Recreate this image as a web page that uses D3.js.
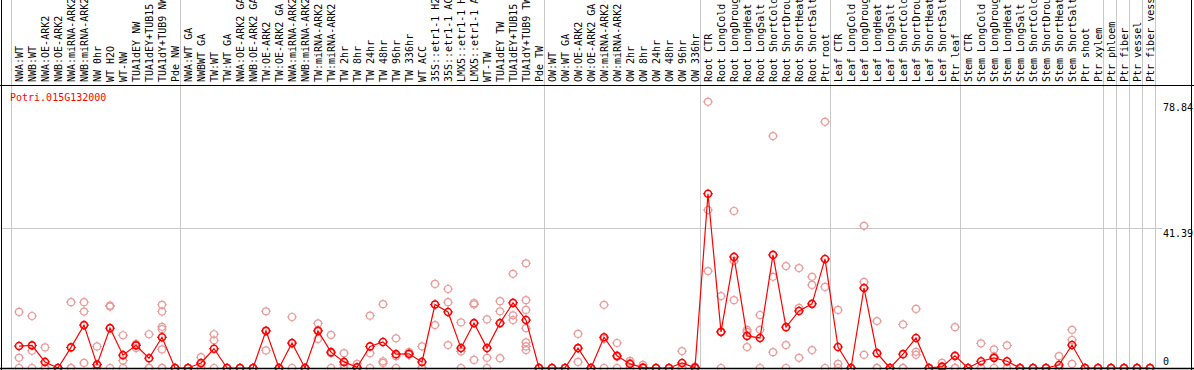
<!DOCTYPE html>
<meta charset="utf-8">
<head>
  <style>
    body {
      margin: 0;
      background: #fff;
    }
    text {
      font-family: "DejaVu Sans Mono", "Liberation Mono", monospace;
      font-size: 10px;
    }
  </style>
</head>
<body>
  <div class="chart"></div>
  <script src="https://d3js.org/d3.v7.min.js"></script>
  <script>
    // sample names (cut at 14 chars like the original)
    var labels = [
      "NWA:WT","NWB:WT","NWA:OE-ARK2","NWB:OE-ARK2","NWA:miRNA-ARK2","NWB:miRNA-ARK2","NW 0hr","WT H2O","WT-NW","TUA1dEY NW","TUA1dEY+TUB15","TUA1dY+TUB9 NW","Pde NW",
      "NWA:WT GA","NWBWT GA","TW:WT","TW:WT GA","NWA:OE-ARK2 GA","NWB:OE-ARK2 GA","TW:OE-ARK2","TW:OE-ARK2 GA","NWA:miRNA-ARK2","NWB:miRNA-ARK2","TW:miRNA-ARK2","TW:miRNA-ARK2",
      "TW 2hr","TW 8hr","TW 24hr","TW 48hr","TW 96hr","TW 336hr","WT ACC","35S::etr1-1 H2","35S::etr1-1 AC","LMX5::etr1-1 H","LMX5::etr1-1 A","WT-TW","TUA1dEY TW","TUA1dEY+TUB15","TUA1dY+TUB9 TW","Pde TW",
      "OW:WT","OW:WT GA","OW:OE-ARK2","OW:OE-ARK2 GA","OW:miRNA-ARK2","OW:miRNA-ARK2","OW 2hr","OW 8hr","OW 24hr","OW 48hr","OW 96hr","OW 336hr",
      "Root CTR","Root LongCold","Root LongDroug","Root LongHeat","Root LongSalt","Root ShortCold","Root ShortDrou","Root ShortHeat","Root ShortSalt","Ptr root",
      "Leaf CTR","Leaf LongCold","Leaf LongDroug","Leaf LongHeat","Leaf LongSalt","Leaf ShortCold","Leaf ShortDrou","Leaf ShortHeat","Leaf ShortSalt","Ptr leaf",
      "Stem CTR","Stem LongCold","Stem LongDroug","Stem LongHeat","Stem LongSalt","Stem ShortCold","Stem ShortDrou","Stem ShortHeat","Stem ShortSalt","Ptr shoot","Ptr xylem",
      "Ptr phloem","Ptr fiber","Ptr vessel","Ptr fiber vess"
    ];

    // group separators (index of first sample in each block)
    var groupBreaks = [0, 13, 41, 53, 63, 73, 84, 85, 86, 87, 88];

    // mean expression per sample
    var means = [
      6.5, 6.7, 1.8, 0, 6.1, 12.7, 1.0, 11.8, 3.8, 6.7, 2.9, 9.1, 0,
      0, 1.5, 5.7, 0, 0, 0, 11.0, 0, 7.4, 0, 11.0, 4.7,
      1.8, 0.2, 6.4, 7.7, 4.1, 4.2, 1.8, 18.8, 16.6, 5.9, 13.3, 5.9, 13.3, 19.3, 14.2, 0,
      0, 0, 5.9, 0, 9.1, 3.6, 1.2, 0.1, 0, 0, 1.5, 0.1,
      51.6, 10.7, 32.9, 9.5, 8.9, 33.5, 12.1, 16.9, 19.0, 32.3,
      6.2, 0, 23.7, 4.4, 0, 4.1, 8.9, 0, 0.4, 3.6,
      0, 2.0, 3.0, 2.0, 0, 0, 0, 0.9, 6.8, 0, 0,
      0, 0, 0, 0
    ];

    // replicate values per sample
    var reps = [
      [16.6, 3.0, 0], [15.4, 5.1, 0], [6.1, 0, 0], [0, 0, 0], [19.5, 0, 0], [19.5, 16.7, 1.5], [6.4, 0, 0],
      [18.5, 18.2, 0], [9.7, 2.2, 0], [7.1, 5.9, 7.0], [10.0, 0, 0], [18.7, 16.7, 12.2, 11.5, 5.5, 0, 0], [0, 0, 0],
      [0, 0, 0], [3.2, 1.2, 0], [10.0, 8.2, 0], [0, 0, 0], [0, 0, 0], [0, 0, 0], [16.8, 5.2, 11.0], [0, 0, 0],
      [15.1, 7.2, 0], [0, 0, 0], [13.2, 8.6, 11.2], [9.8, 4.4, 0],
      [4.4, 0.9, 0], [1.2, 0, 0], [15.5, 4.4, 0], [18.9, 2.0, 1.5], [8.8, 3.5, 0], [4.7, 3.9, 4.0], [6.4, 0, 0],
      [24.9, 12.7, 18.8], [23.4, 19.5, 6.8], [13.5, 4.9, 0], [18.8, 19.2, 2.4], [14.4, 3.0, 0], [19.8, 16.8, 2.9],
      [27.9, 15.6, 14.2], [31.0, 20.1, 17.2, 11.8, 7.6, 6.4, 5.3], [0, 0, 0],
      [0, 0, 0], [0, 0, 0], [10.1, 1.8, 5.9], [0, 0, 0], [18.7, 8.6, 0], [7.4, 3.3, 0], [2.1, 1.5, 0], [0.9, 0, 0],
      [0, 0, 0], [0, 0, 0], [5.0, 0, 0], [0.4, 0, 0],
      [78.84, 46.8, 28.7], [21.3, 10.7, 0], [46.5, 31.7, 20.1], [11.3, 10.7, 6.2], [15.7, 11.3, 0],
      [68.7, 27.0, 4.7], [30.2, 6.8, 0], [29.6, 17.8, 3.0], [27.0, 24.6, 5.3], [72.9, 24.0, 0],
      [17.2, 1.2, 0], [0, 0, 0], [42.1, 25.5, 3.9], [13.9, 0, 0], [0, 0, 0], [12.9, 0, 0], [17.5, 4.8, 3.9],
      [0, 0, 0], [1.5, 0, 0], [12.1, 0, 0],
      [0, 0, 0], [7.3, 0, 0], [5.5, 3.4, 0], [6.7, 0, 0], [0, 0, 0], [0, 0, 0], [0, 0, 0], [3.5, 0, 0],
      [11.3, 8.3, 1.2], [0, 0, 0], [0, 0, 0],
      [0, 0, 0], [0, 0, 0], [0, 0, 0], [0, 0, 0]
    ];

    var geneName = "Potri.015G132000";
    var maxValue = 78.84;
    var yTickValues = [0, 41.39, 78.84];

    var width = 1194, height = 370;
    var step = 13, left = 11, headerBottom = 85.5, bottom = 368.5, right = 1191.5;

    var svg = d3.select(".chart").append("svg")
        .attr("width", width)
        .attr("height", height);

    var x = d3.scaleBand()
        .domain(d3.range(labels.length))
        .range([left, left + step * labels.length]);

    var y = d3.scaleLinear()
        .domain([0, maxValue * 1.05])
        .range([368, 88.5]);

    function cx(i) { return x(i) + 8; }

    var grey = "#c8c8c8";

    // group separators
    svg.append("g").selectAll("line")
        .data(groupBreaks)
        .enter().append("line")
        .attr("x1", function(d) { return x.range()[0] + d * x.step() + 0.5; })
        .attr("x2", function(d) { return x.range()[0] + d * x.step() + 0.5; })
        .attr("y1", 0)
        .attr("y2", bottom)
        .attr("stroke", grey);

    // mid gridline
    svg.append("line")
        .attr("x1", 1)
        .attr("x2", 1162)
        .attr("y1", Math.round(y(yTickValues[1])) + 0.5)
        .attr("y2", Math.round(y(yTickValues[1])) + 0.5)
        .attr("stroke", grey);

    // marker: ring with small ticks
    function marker(g, color, sw) {
      g.append("circle")
          .attr("r", 3.5)
          .attr("fill", "none")
          .attr("stroke", color)
          .attr("stroke-width", sw);
      g.append("path")
          .attr("d", "M0,-5V-3.5M0,3.5V5M-5,0H-3.5M3.5,0H5")
          .attr("stroke", color)
          .attr("stroke-width", 1);
    }

    // replicates
    var repData = [];
    reps.forEach(function(r, i) {
      r.forEach(function(v) { repData.push({ i: i, v: v }); });
    });

    svg.append("g").selectAll("g")
        .data(repData)
        .enter().append("g")
        .attr("transform", function(d) { return "translate(" + cx(d.i) + "," + y(d.v) + ")"; })
        .each(function() { marker(d3.select(this), "#eb9a9a", 1.2); });

    // mean line
    var line = d3.line()
        .x(function(d, i) { return cx(i); })
        .y(function(d) { return y(d); });

    svg.append("path")
        .datum(means)
        .attr("d", line)
        .attr("fill", "none")
        .attr("stroke", "#ff0000")
        .attr("stroke-width", 1.2);

    svg.append("g").selectAll("g")
        .data(means)
        .enter().append("g")
        .attr("transform", function(d, i) { return "translate(" + cx(i) + "," + y(d) + ")"; })
        .each(function() { marker(d3.select(this), "#ff0000", 1.6); });

    // frame
    svg.append("line").attr("x1", 1.5).attr("x2", 1.5).attr("y1", 0).attr("y2", height).attr("stroke", "#000");
    svg.append("line").attr("x1", right).attr("x2", right).attr("y1", 0).attr("y2", height).attr("stroke", "#000");
    svg.append("line").attr("x1", 0).attr("x2", width).attr("y1", headerBottom).attr("y2", headerBottom).attr("stroke", "#000");
    svg.append("line").attr("x1", 0).attr("x2", width).attr("y1", bottom).attr("y2", bottom).attr("stroke", "#000").attr("stroke-width", 1.5);

    // sample labels
    svg.append("g").selectAll("text")
        .data(labels)
        .enter().append("text")
        .attr("transform", function(d, i) { return "translate(" + cx(i) + ",82) rotate(-90)"; })
        .attr("dy", "0.35em")
        .attr("fill", "#000")
        .text(function(d) { return d; });

    // gene name
    svg.append("text")
        .attr("x", 10)
        .attr("y", 101)
        .attr("fill", "#ff0000")
        .text(geneName);

    // y labels
    svg.append("g").selectAll("text")
        .data(yTickValues)
        .enter().append("text")
        .attr("x", 1163)
        .attr("y", function(d) { return d === 0 ? y(d) - 3 : y(d) + 9; })
        .attr("fill", "#000")
        .text(function(d) { return d === 0 ? "0" : d3.format(".2f")(d); });
  </script>
</body>
